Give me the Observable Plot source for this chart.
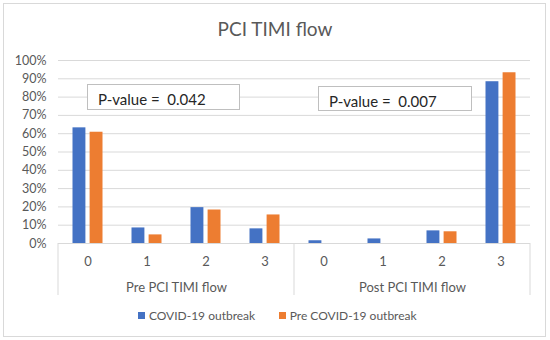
<!DOCTYPE html>
<html><head><meta charset="utf-8">
<script src="https://cdn.jsdelivr.net/npm/d3@7"></script>
<script src="https://cdn.jsdelivr.net/npm/@observablehq/plot@0.6"></script>
<style>
body{margin:0;background:#fff;font-family:Lato,sans-serif;}
#wrap{position:relative;width:550px;height:340px;overflow:hidden;background:#fff;}
#frame{position:absolute;left:3px;top:3px;width:541px;height:332px;border:1px solid #d9d9d9;pointer-events:none;}
#title{height:45px;box-sizing:border-box;padding-top:19px;line-height:19px;font-size:19px;color:#595959;text-align:center;}
#chart svg{display:block;}
#legend{position:absolute;left:0;top:307px;width:550px;height:16px;display:flex;justify-content:center;align-items:center;font-size:12px;color:#595959;padding-left:5px;box-sizing:border-box;}
#legend .item{display:flex;align-items:center;margin:0 12px;}
#legend .sw{width:7px;height:7px;margin-right:3.5px;display:inline-block;}
.pbox{position:absolute;border:1px solid #bfbfbf;background:#fff;font-size:15px;line-height:18px;color:#262626;box-sizing:border-box;padding-top:5px;padding-left:10px;white-space:pre;}
</style>
</head><body>
<div id="wrap">
  <div id="title"></div>
  <div id="chart"></div>
  <div id="legend"></div>
  <div id="frame"></div>
</div>
<script>
const chartTitle = "PCI TIMI flow";
const groups = ["Pre PCI TIMI flow", "Post PCI TIMI flow"];
const levels = ["0", "1", "2", "3"];
const series = ["COVID-19 outbreak", "Pre COVID-19 outbreak"];
const seriesColors = ["#4472C4", "#ED7D31"];
const covidValues    = [0.632, 0.085, 0.196, 0.080, 0.015, 0.025, 0.069, 0.884];
const preCovidValues = [0.608, 0.047, 0.183, 0.156, 0.000, 0.000, 0.064, 0.933];
const yTicks = [0, 0.1, 0.2, 0.3, 0.4, 0.5, 0.6, 0.7, 0.8, 0.9, 1.0];
const pValueLabels = ["P-value =  0.042", "P-value =  0.007"];

const rows = covidValues.map((v, i) => ({
  group: groups[Math.floor(i / 4)],
  level: levels[i % 4],
  covid: v,
  pre: preCovidValues[i]
}));

document.getElementById("title").textContent = chartTitle;

const W = 550, H = 255, mL = 57, mR = 20, mT = 15, mB = 57;
const plot = Plot.plot({
  width: W, height: H,
  marginLeft: mL, marginRight: mR, marginTop: mT, marginBottom: mB,
  style: {fontFamily: "Lato, sans-serif", fontSize: "12px", color: "#595959", background: "transparent", overflow: "visible"},
  fx: {domain: groups, padding: 0},
  x: {domain: levels, padding: 0},
  y: {domain: [0, 1]},
  marks: [
    Plot.gridY(yTicks, {stroke: "#d9d9d9", strokeOpacity: 1}),
    Plot.axisY(yTicks, {tickFormat: d3.format(".0%"), tickSize: 0, tickPadding: 12, label: null, fill: "#595959", fontSize: 12.5}),
    Plot.barY(rows.filter(d => d.covid > 0), {fx: "group", x: "level", y: "covid", fill: seriesColors[0], insetLeft: 14.5, insetRight: 31.6}),
    Plot.barY(rows.filter(d => d.pre > 0), {fx: "group", x: "level", y: "pre", fill: seriesColors[1], insetLeft: 31.6, insetRight: 14.5}),
    Plot.ruleY([0], {stroke: "#d9d9d9"}),
    Plot.axisX({tickSize: 0, tickPadding: 13, label: null, fill: "#595959", fontSize: 13}),
    Plot.axisFx({anchor: "bottom", tickSize: 0, tickPadding: 39, label: null, fill: "#595959", fontSize: 13})
  ]
});
document.getElementById("chart").appendChild(plot);

// category separators of the multi-level axis
const fxs = plot.scale("fx");
const bounds = groups.map(g => fxs.apply(g)).concat([fxs.apply(groups[groups.length - 1]) + fxs.bandwidth]);
d3.select(plot).append("g").selectAll("line").data(bounds).join("line")
  .attr("x1", d => d).attr("x2", d => d)
  .attr("y1", H - mB).attr("y2", H - mB + 52)
  .attr("stroke", "#d9d9d9");

// legend
const lg = d3.select("#legend");
series.forEach((s, i) => {
  const it = lg.append("div").attr("class", "item");
  it.append("span").attr("class", "sw").style("background", seriesColors[i]);
  it.append("span").text(s);
});

// p-value annotation boxes
const boxPos = [{left: 87, top: 84, width: 153, height: 26}, {left: 318, top: 86, width: 154, height: 25}];
pValueLabels.forEach((t, i) => {
  const b = boxPos[i];
  d3.select("#wrap").append("div").attr("class", "pbox")
    .style("left", b.left + "px").style("top", b.top + "px")
    .style("width", b.width + "px").style("height", b.height + "px")
    .text(t);
});
</script>
</body></html>
